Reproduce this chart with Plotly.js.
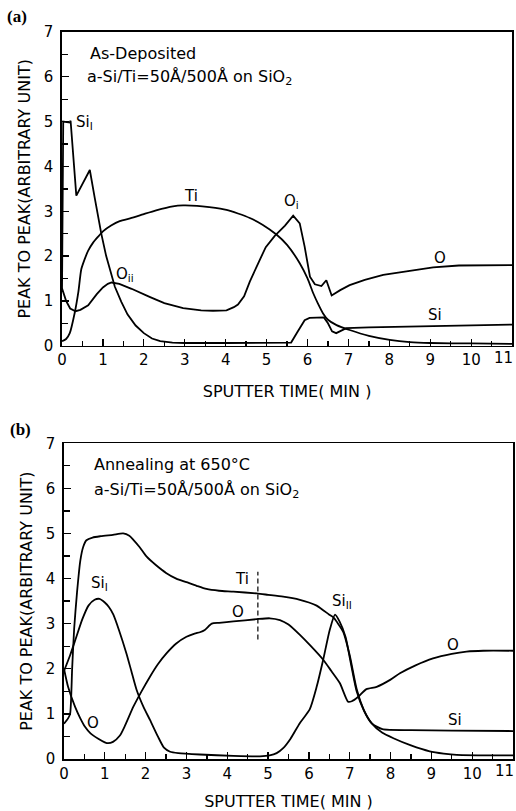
<!DOCTYPE html>
<html>
<head>
<meta charset="utf-8">
<script src="https://cdn.plot.ly/plotly-3.0.1.min.js"></script>
<style>html,body{margin:0;padding:0;background:#fff;}#chart{width:516px;height:811px;}</style>
</head>
<body>
<div id="chart"></div>
<script>
// ---------- Panel (a): As-Deposited ----------
const siA_x = [0, 0.03, 0.19, 0.21, 0.35, 0.68, 0.8, 0.96, 1.08, 1.17, 1.29, 1.45, 1.6, 1.8, 2.0, 2.2, 2.4, 2.7, 3.0, 4.0, 5.0, 5.6, 5.75, 5.93, 6.05, 6.4, 6.5, 6.6, 6.7, 6.8, 6.95, 7.5, 8.5, 9.5, 11];
const siA_y = [1.2, 5.0, 4.98, 5.02, 3.35, 3.92, 3.3, 2.5, 2.0, 1.69, 1.32, 0.98, 0.7, 0.45, 0.28, 0.16, 0.1, 0.07, 0.06, 0.06, 0.06, 0.07, 0.3, 0.57, 0.62, 0.63, 0.5, 0.32, 0.28, 0.32, 0.39, 0.41, 0.43, 0.45, 0.47];

const tiA_x = [0, 0.1, 0.19, 0.31, 0.4, 0.47, 0.55, 0.64, 0.76, 0.88, 1.0, 1.2, 1.41, 1.7, 1.98, 2.3, 2.71, 2.96, 3.3, 3.6, 4.02, 4.3, 4.59, 4.9, 5.24, 5.5, 5.81, 6.0, 6.14, 6.25, 6.38, 6.5, 6.71, 7.03, 7.5, 8.01, 8.5, 9.0, 10, 11];
const tiA_y = [0.1, 0.15, 0.28, 0.73, 1.2, 1.7, 1.92, 2.12, 2.3, 2.43, 2.55, 2.68, 2.78, 2.85, 2.93, 3.02, 3.11, 3.13, 3.12, 3.09, 3.03, 2.95, 2.85, 2.7, 2.48, 2.25, 1.84, 1.5, 1.17, 0.95, 0.72, 0.58, 0.46, 0.35, 0.22, 0.13, 0.08, 0.06, 0.05, 0.04];

const oA_x = [0, 0.1, 0.2, 0.33, 0.45, 0.64, 0.85, 1.0, 1.12, 1.21, 1.4, 1.7, 2.14, 2.5, 2.96, 3.4, 3.69, 4.02, 4.2, 4.3, 4.45, 4.59, 4.8, 4.98, 5.2, 5.45, 5.65, 5.81, 5.93, 6.06, 6.18, 6.34, 6.46, 6.59, 6.8, 7.03, 7.4, 7.85, 8.5, 9.07, 9.7, 10.29, 11];
const oA_y = [1.28, 1.0, 0.83, 0.77, 0.8, 0.9, 1.15, 1.3, 1.38, 1.41, 1.38, 1.27, 1.09, 0.95, 0.84, 0.79, 0.78, 0.79, 0.86, 0.92, 1.1, 1.43, 1.85, 2.2, 2.45, 2.68, 2.9, 2.73, 2.21, 1.54, 1.37, 1.33, 1.46, 1.12, 1.24, 1.35, 1.47, 1.58, 1.67, 1.75, 1.79, 1.8, 1.8];

// ---------- Panel (b): Annealing at 650°C ----------
const tiB_x = [0, 0.1, 0.15, 0.2, 0.25, 0.32, 0.4, 0.47, 0.55, 0.7, 0.9, 1.2, 1.45, 1.6, 1.7, 1.85, 2.02, 2.25, 2.51, 2.75, 3.0, 3.25, 3.49, 3.8, 4.15, 4.72, 5.0, 5.37, 5.78, 6.0, 6.19, 6.35, 6.5, 6.6, 6.7, 6.84, 7.0, 7.17, 7.35, 7.54, 7.8, 8.07, 8.5, 8.96, 9.3, 9.62, 10.3, 11];
const tiB_y = [0.78, 0.9, 1.0, 2.0, 2.9, 3.7, 4.4, 4.7, 4.85, 4.91, 4.94, 4.97, 5.0, 4.95, 4.86, 4.7, 4.49, 4.3, 4.12, 4.0, 3.92, 3.84, 3.77, 3.73, 3.71, 3.67, 3.64, 3.6, 3.53, 3.47, 3.4, 3.3, 3.2, 3.14, 3.02, 2.82, 2.3, 1.55, 1.08, 0.79, 0.58, 0.46, 0.3, 0.17, 0.12, 0.09, 0.08, 0.08];

const siB_x = [0, 0.15, 0.3, 0.45, 0.6, 0.75, 0.87, 1.0, 1.1, 1.21, 1.35, 1.53, 1.65, 1.78, 1.95, 2.11, 2.3, 2.45, 2.6, 2.8, 3.33, 4.15, 4.8, 5.04, 5.21, 5.37, 5.55, 5.78, 6.02, 6.19, 6.35, 6.51, 6.64, 6.75, 6.9, 7.0, 7.17, 7.35, 7.54, 7.8, 8.5, 9.5, 11];
const siB_y = [1.95, 2.3, 2.7, 3.1, 3.4, 3.53, 3.55, 3.47, 3.37, 3.2, 2.85, 2.34, 1.95, 1.53, 1.15, 0.86, 0.5, 0.25, 0.16, 0.13, 0.1, 0.07, 0.06, 0.08, 0.13, 0.24, 0.45, 0.8, 1.1, 1.6, 2.2, 2.86, 3.2, 3.05, 2.7, 2.25, 1.5, 1.07, 0.79, 0.66, 0.64, 0.63, 0.62];

const oB_x = [0, 0.1, 0.27, 0.4, 0.51, 0.65, 0.84, 1.0, 1.08, 1.2, 1.37, 1.5, 1.7, 1.9, 2.11, 2.3, 2.51, 2.75, 3.0, 3.2, 3.33, 3.45, 3.62, 3.8, 4.15, 4.72, 5.04, 5.29, 5.5, 5.78, 6.05, 6.35, 6.55, 6.76, 6.96, 7.05, 7.21, 7.41, 7.66, 8.0, 8.23, 8.6, 9.04, 9.5, 9.86, 10.27, 11];
const oB_y = [2.0, 1.6, 1.16, 0.9, 0.72, 0.57, 0.45, 0.37, 0.35, 0.38, 0.52, 0.75, 1.16, 1.5, 1.83, 2.1, 2.34, 2.56, 2.71, 2.78, 2.81, 2.86, 3.0, 3.02, 3.05, 3.1, 3.12, 3.08, 2.98, 2.75, 2.5, 2.2, 1.95, 1.68, 1.27, 1.28, 1.38, 1.55, 1.6, 1.76, 1.9, 2.07, 2.23, 2.33, 2.38, 2.4, 2.4];

const dashB_x = [4.75, 4.75];
const dashB_y = [2.65, 4.15];

// x tick labels; the last one (11) sits at the right edge and is drawn right-aligned
const xTickVals = [0,1,2,3,4,5,6,7,8,9,10,11];
const xTickText = ['0','1','2','3','4','5','6','7','8','9','10',''];
const xEdgeLabel = '11';
const yTickVals = [0,1,2,3,4,5,6,7];

// curve labels
const labA_text = ['Si<sub>I</sub>', 'Ti', 'O<sub>ii</sub>', 'O<sub>i</sub>', 'O', 'Si'];
const labA_x = [0.56, 3.16, 1.53, 5.61, 9.23, 9.11];
const labA_y = [4.97, 3.33, 1.58, 3.22, 1.95, 0.69];
const labB_text = ['Ti', 'O', 'Si<sub>I</sub>', 'O', 'Si<sub>II</sub>', 'O', 'Si'];
const labB_x = [4.35, 4.27, 0.88, 0.72, 6.8, 9.53, 9.58];
const labB_y = [4.0, 3.27, 3.9, 0.79, 3.49, 2.53, 0.86];

const FONT = 'DejaVu Sans, Liberation Sans, sans-serif';
const lineStyle = {color: '#000', width: 1.8};

function tr(x, y, xa, ya, shape) {
  return {x: x, y: y, xaxis: xa, yaxis: ya, type: 'scatter', mode: 'lines',
          line: Object.assign({}, lineStyle, {shape: shape, smoothing: 0.6}), hoverinfo: 'skip'};
}

const data = [
  tr(siA_x, siA_y, 'x', 'y', 'linear'),
  tr(tiA_x, tiA_y, 'x', 'y', 'spline'),
  tr(oA_x, oA_y, 'x', 'y', 'linear'),
  tr(tiB_x, tiB_y, 'x2', 'y2', 'spline'),
  tr(siB_x, siB_y, 'x2', 'y2', 'spline'),
  tr(oB_x, oB_y, 'x2', 'y2', 'spline'),
  {x: dashB_x, y: dashB_y, xaxis: 'x2', yaxis: 'y2', type: 'scatter', mode: 'lines',
   line: {color: '#000', width: 1.2, dash: '5px,3px'}, hoverinfo: 'skip'}
];

function xAxis(domain, anchor) {
  return {domain: domain, anchor: anchor, range: [0, 11], tickvals: xTickVals, ticktext: xTickText,
    ticks: 'inside', ticklen: 7, tickwidth: 1.3, tickcolor: '#000',
    minor: {dtick: 0.5, ticks: 'inside', ticklen: 5, tickwidth: 1.3, tickcolor: '#000'},
    showline: true, linecolor: '#000', linewidth: 1.6, mirror: true, showgrid: false, zeroline: false,
    tickfont: {family: FONT, size: 15, color: '#000'},
    title: {text: 'SPUTTER TIME( MIN )', font: {family: FONT, size: 16, color: '#000'}, standoff: 17}};
}
function yAxis(domain, anchor) {
  return {domain: domain, anchor: anchor, range: [0, 7], tickvals: yTickVals,
    ticks: 'inside', ticklen: 7, tickwidth: 1.3, tickcolor: '#000',
    minor: {dtick: 0.5, ticks: 'inside', ticklen: 6, tickwidth: 1.3, tickcolor: '#000'},
    showline: true, linecolor: '#000', linewidth: 1.6, mirror: true, showgrid: false, zeroline: false,
    tickfont: {family: FONT, size: 15, color: '#000'}, ticklabelstandoff: 4,
    title: {text: 'PEAK TO PEAK(ARBITRARY UNIT)', font: {family: FONT, size: 16, color: '#000'}, standoff: 9}};
}

const annotations = [];
function addLabels(texts, xs, ys, xr, yr) {
  for (let i = 0; i < texts.length; i++) {
    annotations.push({x: xs[i], y: ys[i], xref: xr, yref: yr, text: texts[i], showarrow: false,
      font: {family: FONT, size: 15, color: '#000'}, xanchor: 'center', yanchor: 'middle'});
  }
}
addLabels(labA_text, labA_x, labA_y, 'x', 'y');
addLabels(labB_text, labB_x, labB_y, 'x2', 'y2');

const notes = [
  {t: 'As-Deposited', x: 0.63, y: 6.53, xr: 'x', yr: 'y'},
  {t: 'a-Si/Ti=50Å/500Å on SiO<sub>2</sub>', x: 0.56, y: 5.98, xr: 'x', yr: 'y'},
  {t: 'Annealing at 650°C', x: 0.69, y: 6.52, xr: 'x2', yr: 'y2'},
  {t: 'a-Si/Ti=50Å/500Å on SiO<sub>2</sub>', x: 0.68, y: 5.96, xr: 'x2', yr: 'y2'}
];
notes.forEach(n => annotations.push({x: n.x, y: n.y, xref: n.xr, yref: n.yr, text: n.t, showarrow: false,
  font: {family: FONT, size: 16, color: '#000'}, xanchor: 'left', yanchor: 'middle'}));

// right-edge "11" tick labels, aligned to the last tick of each x axis
[['x', 'y'], ['x2', 'y2']].forEach(([xr, yr]) => annotations.push({
  x: xTickVals[xTickVals.length - 1], y: 0, xref: xr, yref: yr, text: xEdgeLabel, showarrow: false,
  xanchor: 'right', yanchor: 'top', xshift: 3, yshift: -1,
  font: {family: FONT, size: 15, color: '#000'}}));

annotations.push({x: 5, y: 17, xref: 'paper', yref: 'paper', text: '<b>(a)</b>', showarrow: false});
annotations.push({x: 8, y: 430, xref: 'paper', yref: 'paper', text: '<b>(b)</b>', showarrow: false});

const layout = {
  width: 516, height: 811,
  margin: {l: 62, r: 3, t: 32, b: 52},
  paper_bgcolor: '#fff', plot_bgcolor: '#fff',
  showlegend: false,
  xaxis: xAxis([0, 0.998], 'y'),
  yaxis: yAxis([0.5685, 1], 'x'),
  xaxis2: xAxis([0.0044, 1], 'y2'),
  yaxis2: yAxis([0, 0.4343], 'x2'),
  annotations: annotations
};

// convert pixel-positioned panel letters to paper coordinates
const plotW = 516 - 62 - 3, plotH = 811 - 32 - 52;
layout.annotations.forEach(a => {
  if (a.text === '<b>(a)</b>' || a.text === '<b>(b)</b>') {
    const px = a.x, py = a.y;
    a.x = (px - 62) / plotW; a.y = (811 - 52 - py) / plotH;
    a.xanchor = 'left'; a.yanchor = 'middle';
    a.font = {family: 'Liberation Serif, serif', size: 17, color: '#000'};
  }
});

Plotly.newPlot('chart', data, layout, {staticPlot: true});
</script>
</body>
</html>
